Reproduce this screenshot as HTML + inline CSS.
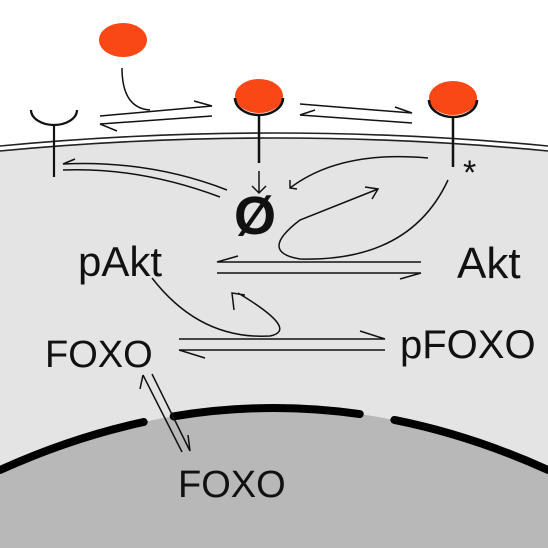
<!DOCTYPE html>
<html><head><meta charset="utf-8"><style>
html,body{margin:0;padding:0;background:#fff}
svg{display:block}
text{font-family:"Liberation Sans",sans-serif;fill:#111}
</style></head><body>
<svg width="548" height="548" viewBox="0 0 548 548">
<path d="M0,150 Q274,124 548,150 L548,548 L0,548 Z" fill="#e4e4e4"/>
<path d="M0,470 Q274,346 548,470 L548,548 L0,548 Z" fill="#b8b8b8"/>
<g fill="none" stroke="#222" stroke-width="1.6">
<path d="M0,146 Q274,120 548,146"/><path d="M0,151 Q274,125 548,151"/>
</g>
<path d="M0,470 Q274,346 548,470" pathLength="1000" fill="none" stroke="#000" stroke-width="8" stroke-linecap="round" stroke-dasharray="268 54 330 62 1000"/>
<g>
<ellipse cx="123" cy="40" rx="24" ry="17" fill="#fa4716"/>
</g>
<g fill="none" stroke="#111" stroke-width="2.2">
<path d="M31,110 A23,15 0 0 0 77,110"/><line x1="54" y1="124" x2="54" y2="177"/>
</g>
<g>
<ellipse cx="259" cy="96" rx="24" ry="17" fill="#fa4716"/>
<path d="M235,98 A24,17 0 0 0 283,98" fill="none" stroke="#111" stroke-width="2.5"/>
<line x1="259" y1="114" x2="259" y2="163" stroke="#111" stroke-width="2.5"/>
</g>
<g>
<ellipse cx="453" cy="98" rx="24" ry="17" fill="#fa4716"/>
<path d="M429,100 A24,17 0 0 0 477,100" fill="none" stroke="#111" stroke-width="2.5"/>
<line x1="453" y1="116" x2="453" y2="167" stroke="#111" stroke-width="2.5"/>
</g>
<text x="463" y="184" font-size="34">*</text>
<g fill="none" stroke="#111" stroke-width="1.5">
<path d="M122,68 Q122,108 150,110"/>
<path d="M100,116 L212,106 L194,101"/>
<path d="M212,116 L100,124 L117,131"/>
<path d="M300,104 L412,113 L395,107"/>
<path d="M412,123 L300,115 L315,110"/>
<path d="M259,171 L259,193 M252,186 L259,193 L266,186"/>
<path d="M227,190 Q150,160 63,164 L75,159"/>
<path d="M220,197 Q140,167 63,170"/>
<path d="M428,158 Q340,150 290,188 M290,180 L290,188 L297,189"/>
<path d="M448,180 Q410,262 300,259 Q258,252 300,220 L378,189 M365,187 L378,189 L372,199"/>
<path d="M421,262 L217,262 L238,256"/>
<path d="M217,273 L421,273 L400,279"/>
<path d="M152,278 Q200,340 270,336 Q300,330 238,293 M234,310 L232,293 L245,295"/>
<path d="M179,339 L385,339 L360,331"/>
<path d="M385,350 L179,350 L205,358"/>
<path d="M143,375 L182,452 M140,389 L143,375"/>
<path d="M152,374 L190,451 L188,435"/>
</g>
<text x="234" y="234" font-size="54" font-weight="bold">Ø</text>
<text x="78" y="276" font-size="42">pAkt</text>
<text x="457" y="278" font-size="44">Akt</text>
<text x="45" y="367" font-size="38">FOXO</text>
<text x="400" y="358" font-size="40">pFOXO</text>
<text x="178" y="497" font-size="38">FOXO</text>
</svg>
</body></html>
